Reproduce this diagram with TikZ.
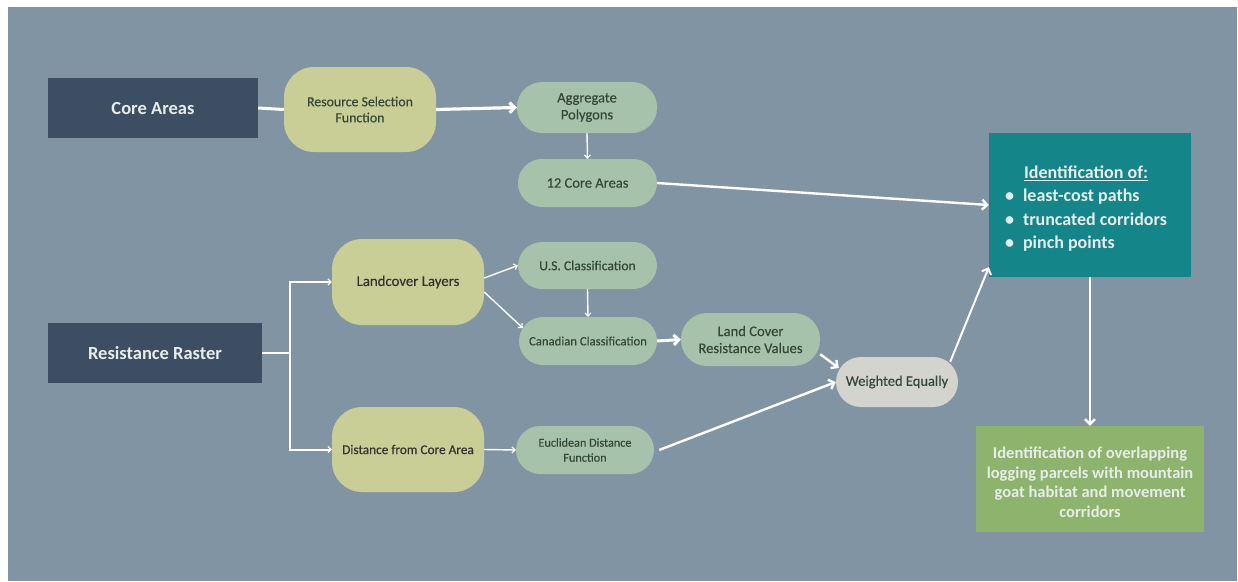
\documentclass[tikz,border=0pt]{standalone}
\usepackage{fontspec}
\setmainfont{Carlito}
\newfontfamily\medium[FakeBold=0.3]{Carlito}
\usetikzlibrary{arrows.meta,calc}
\definecolor{bgc}{HTML}{8194A3}
\definecolor{darkbox}{HTML}{3E4E62}
\definecolor{olive}{HTML}{C9CD96}
\definecolor{sage}{HTML}{A7C2AB}
\definecolor{teal2}{HTML}{148589}
\definecolor{pale}{HTML}{D3D4CE}
\definecolor{fgreen}{HTML}{8DB46C}
\definecolor{dtext}{HTML}{354838}
\definecolor{ltext}{HTML}{E6ECEA}
\newcommand{\fs}[2]{\fontsize{#1}{#2}\selectfont}
\tikzset{
  base/.style={draw=none,inner sep=0pt,align=center,anchor=center},
  darkrect/.style={base,fill=darkbox,text=ltext,font=\fs{18.5}{20}\bfseries},
  olivebox/.style={base,fill=olive,rounded corners=30pt,text=dtext,font=\medium\fs{13.8}{16}},
  sagebox/.style={base,fill=sage,rounded corners=24pt,text=dtext,font=\medium\fs{14}{17}},
  wire/.style={draw=white,line width=#1},
  arr/.style={draw=white,line width=#1,-{Straight Barb[length=5pt,width=10pt,line width=#1]}},
  thinarr/.style={draw=white,line width=1.4pt,-{Straight Barb[length=3pt,width=6pt,line width=1.2pt]}},
}
\begin{document}
\begin{tikzpicture}[x=1pt,y=-1pt]
\useasboundingbox (0,0) rectangle (1238,581);
\fill[white] (0,0) rectangle (1238,581);
\fill[bgc] (8,7) rectangle (1237,581);

% nodes
\node[darkrect,minimum width=210pt,minimum height=60pt] (core) at (153,108) {\raisebox{-2pt}{Core Areas}};
\node[darkrect,minimum width=214pt,minimum height=60pt] (rr) at (155,353) {\raisebox{-2pt}{Resistance Raster}};
\node[olivebox,minimum width=152pt,minimum height=85pt] (rsf) at (360,109.5) {Resource Selection\\Function};
\node[sagebox,rounded corners=25pt,minimum width=140pt,minimum height=51pt,font=\medium\fs{14.5}{17}] (agg) at (587,107.5) {Aggregate\\Polygons};
\node[sagebox,minimum width=139pt,minimum height=48pt,font=\medium\fs{14.5}{16}] (core12) at (587.5,183) {12 Core Areas};
\node[base,fill=teal2,minimum width=202pt,minimum height=144pt,text=ltext,font=\fs{18}{23.5}\bfseries] (ident) at (1090,205) {};
\node[base,text=ltext,font=\fs{18}{23.5}\bfseries] (identtext) at (1086,209)
  {\begin{tabular}{@{}l@{}}\multicolumn{1}{@{}c@{}}{\underline{Identification of:}}\\[0pt]
   \textbullet\hspace{9pt}least-cost paths\\
   \textbullet\hspace{9pt}truncated corridors\\
   \textbullet\hspace{9pt}pinch points\end{tabular}};
\node[olivebox,minimum width=152pt,minimum height=86pt,text=black!80,font=\medium\fs{14.8}{16}] (land) at (408,282) {Landcover Layers};
\node[olivebox,minimum width=152pt,minimum height=85pt,text=black!80,font=\medium\fs{13.3}{16}] (dist) at (408,449.5) {Distance from Core Area};
\node[sagebox,minimum width=139pt,minimum height=47pt,font=\medium\fs{13.6}{16}] (us) at (587.5,265.5) {U.S. Classification};
\node[sagebox,minimum width=138pt,minimum height=48pt,font=\medium\fs{12.7}{16}] (can) at (588,341) {Canadian Classification};
\node[sagebox,rounded corners=26pt,minimum width=139pt,minimum height=53pt,font=\medium\fs{14.6}{17}] (lcrv) at (750.5,339.5) {Land Cover\\Resistance Values};
\node[sagebox,minimum width=138pt,minimum height=48pt,font=\medium\fs{12.2}{15}] (euc) at (585,450) {Euclidean Distance\\Function};
\node[sagebox,fill=pale,rounded corners=25pt,minimum width=122pt,minimum height=50pt,font=\medium\fs{14.5}{16}] (we) at (897,382) {Weighted Equally};
\node[base,fill=fgreen,minimum width=228pt,minimum height=106pt] (fin) at (1090,479) {};
\node[base,text=ltext,font=\fs{16.5}{19.5}\bfseries] (fintext) at (1090,482)
  {Identification of overlapping\\logging parcels with mountain\\goat habitat and movement\\corridors};

% connectors
\draw[wire=3pt] (core.east) -- (rsf.west);
\draw[arr=3.2pt] (rsf.east) -- (agg.west);
\draw[thinarr] (agg.south) -- (core12.north);
\draw[arr=2.4pt] (core12.east) -- (ident.west);
\coordinate (split) at (290,353);
\draw[wire=2.6pt] (rr.east) -- (split);
\draw[thinarr,line width=2pt] (split) |- (land.west);
\draw[thinarr,line width=2pt] (split) |- (dist.west);
\draw[thinarr] ([yshift=4pt]land.east) -- (us.west);
\draw[thinarr] ([yshift=-10pt]land.east) -- ([shift={(4,-13)}]can.west);
\draw[thinarr] (us.south) -- (can.north);
\draw[arr=3pt] (can.east) -- (lcrv.west);
\draw[thinarr] (dist.east) -- (euc.west);
\draw[arr=2.4pt] ([yshift=12pt]lcrv.south east) -- ([shift={(3,-14)}]we.west);
\draw[arr=2.4pt] ([xshift=5pt]euc.east) -- (we.west);
\draw[arr=2pt] ([shift={(-8,5)}]we.north east) -- ([yshift=10pt]ident.south west);
\draw[arr=2.4pt] (ident.south) -- (fin.north);
\end{tikzpicture}
\end{document}
